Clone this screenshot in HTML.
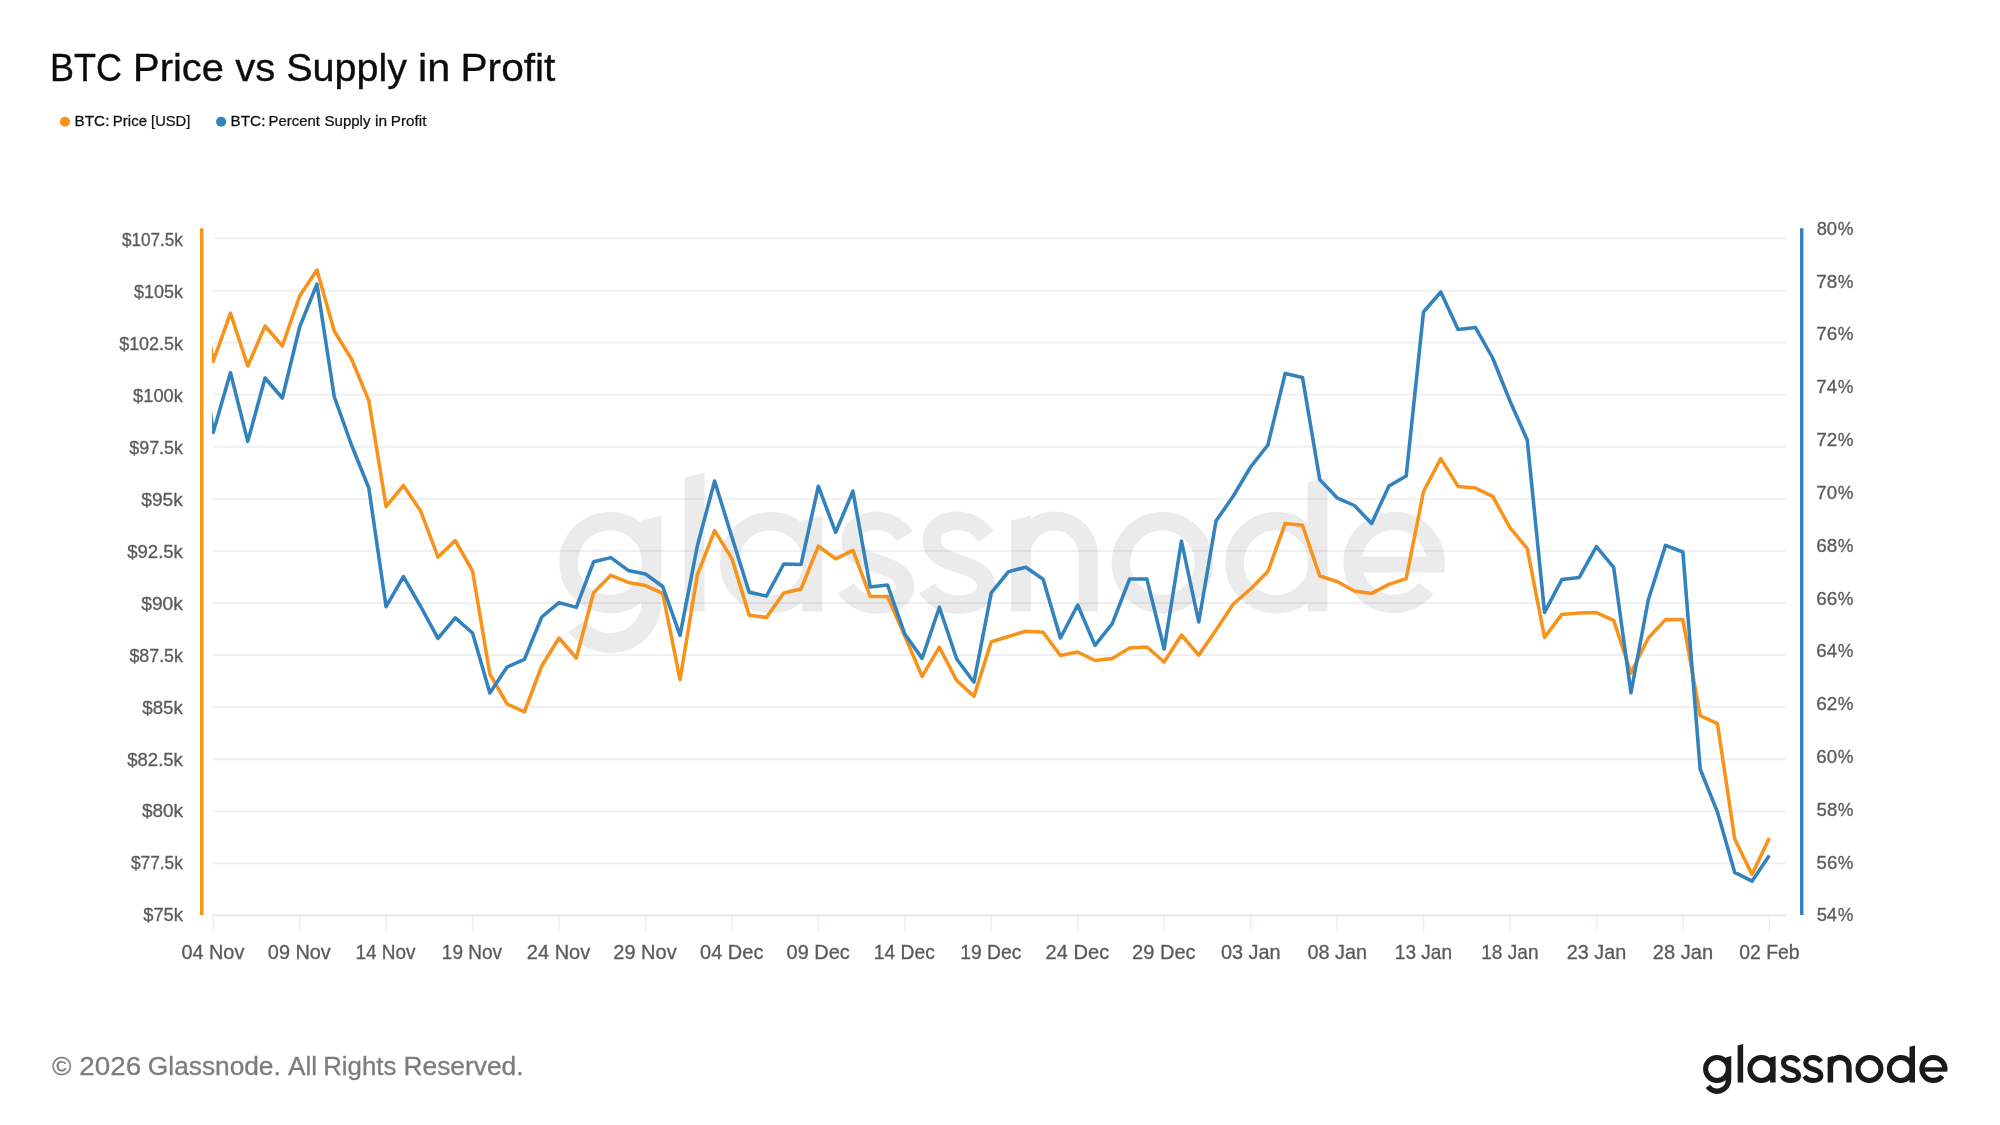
<!DOCTYPE html>
<html lang="en"><head><meta charset="utf-8"><title>BTC Price vs Supply in Profit</title>
<style>
html,body{margin:0;padding:0;background:#fff;}
body{width:2000px;height:1125px;overflow:hidden;font-family:"Liberation Sans",sans-serif;}
svg{display:block;}
svg text{font-family:"Liberation Sans",sans-serif;}
</style></head><body>
<svg width="2000" height="1125" viewBox="0 0 2000 1125">
<rect x="0" y="0" width="2000" height="1125" fill="#ffffff"/>
<defs>
<mask id="txtmask" maskUnits="userSpaceOnUse" x="0" y="0" width="2000" height="1125"><rect x="0" y="0" width="2000" height="1125" fill="#ffffff"/></mask>
<clipPath id="plotclip"><rect x="212" y="200" width="1578" height="720"/></clipPath>
<g id="gnlogo" fill="none" stroke="currentColor" stroke-width="5.1" stroke-linecap="butt" stroke-linejoin="round">
<circle cx="1717.07" cy="1069.0" r="11.45"/>
<path fill="currentColor" stroke="none" d="M1725.77,1057.40 L1731.27,1056.00 L1731.27,1080.24 L1725.77,1080.24 Z"/>
<path stroke-width="5.5" d="M1728.52,1079.74 A11.45,11.45 0 0 1 1707.81,1086.47"/>
<path fill="currentColor" stroke="none" d="M1737.65,1045.50 L1743.15,1044.10 L1743.15,1082.46 L1737.65,1082.46 Z"/>
<circle cx="1761.4" cy="1069.0" r="11.45"/>
<path fill="currentColor" stroke="none" d="M1770.10,1057.40 L1775.60,1056.00 L1775.60,1082.46 L1770.10,1082.46 Z"/>
<path d="M1798.46,1061.72 C1796.52,1058.88 1793.44,1057.43 1790.42,1057.43 C1786.19,1057.43 1783.47,1059.79 1783.47,1062.93 C1783.47,1066.44 1786.49,1067.95 1790.84,1069.28 C1795.56,1070.67 1798.46,1072.36 1798.46,1075.63 C1798.46,1078.65 1795.25,1080.53 1791.02,1080.53 C1786.85,1080.53 1783.71,1078.65 1782.14,1076.11"/>
<path d="M1820.83,1061.72 C1818.89,1058.88 1815.81,1057.43 1812.79,1057.43 C1808.56,1057.43 1805.84,1059.79 1805.84,1062.93 C1805.84,1066.44 1808.86,1067.95 1813.21,1069.28 C1817.93,1070.67 1820.83,1072.36 1820.83,1075.63 C1820.83,1078.65 1817.62,1080.53 1813.39,1080.53 C1809.22,1080.53 1806.08,1078.65 1804.51,1076.11"/>
<path fill="currentColor" stroke="none" d="M1827.65,1057.40 L1833.15,1056.00 L1833.15,1082.46 L1827.65,1082.46 Z"/>
<path stroke-width="5.3" d="M1830.4,1066.80 A9.30,9.30 0 0 1 1849.0,1066.80 V1082.46"/>
<circle cx="1869.45" cy="1069.0" r="11.45"/>
<circle cx="1900.8" cy="1069.0" r="11.45"/>
<path fill="currentColor" stroke="none" d="M1909.50,1046.80 L1915.00,1045.40 L1915.00,1082.46 L1909.50,1082.46 Z"/>
<path d="M1942.26,1076.13 A11.45,11.45 0 1 1 1944.75,1070.00"/>
<path stroke-width="4.4" d="M1921.85,1069.50 H1947.30"/>
</g>
</defs>
<circle cx="65" cy="121.75" r="5.1" fill="#f7931a"/>
<circle cx="221.1" cy="121.75" r="5.1" fill="#3182bd"/>
<g stroke="#eeeef3" stroke-width="1.8" fill="none">
<path d="M213,238.45 H1786.3"/>
<path d="M213,290.53 H1786.3"/>
<path d="M213,342.61 H1786.3"/>
<path d="M213,394.69 H1786.3"/>
<path d="M213,446.77 H1786.3"/>
<path d="M213,498.85 H1786.3"/>
<path d="M213,550.93 H1786.3"/>
<path d="M213,603.01 H1786.3"/>
<path d="M213,655.09 H1786.3"/>
<path d="M213,707.17 H1786.3"/>
<path d="M213,759.25 H1786.3"/>
<path d="M213,811.33 H1786.3"/>
<path d="M213,863.41 H1786.3"/>
</g>
<g opacity="0.074"><use href="#gnlogo" color="#000000" transform="translate(-5614.34,-3312.42) scale(3.625)"/></g>
<path d="M212.4,915.4 H1786.3" stroke="#e8eaf0" stroke-width="2.3" fill="none"/>
<g stroke="#ececf0" stroke-width="1.3" fill="none">
<path d="M213.30,915 V931.5"/>
<path d="M299.75,915 V931.5"/>
<path d="M386.20,915 V931.5"/>
<path d="M472.65,915 V931.5"/>
<path d="M559.10,915 V931.5"/>
<path d="M645.55,915 V931.5"/>
<path d="M732.00,915 V931.5"/>
<path d="M818.45,915 V931.5"/>
<path d="M904.90,915 V931.5"/>
<path d="M991.35,915 V931.5"/>
<path d="M1077.80,915 V931.5"/>
<path d="M1164.25,915 V931.5"/>
<path d="M1250.70,915 V931.5"/>
<path d="M1337.15,915 V931.5"/>
<path d="M1423.60,915 V931.5"/>
<path d="M1510.05,915 V931.5"/>
<path d="M1596.50,915 V931.5"/>
<path d="M1682.95,915 V931.5"/>
<path d="M1769.40,915 V931.5"/>
</g>
<path d="M201.75,228.3 V915" stroke="#f7931a" stroke-width="3.4" fill="none"/>
<path d="M1801.75,228.3 V915" stroke="#3182bd" stroke-width="3.4" fill="none"/>
<g clip-path="url(#plotclip)" fill="none" stroke-width="3.55" stroke-linejoin="round" stroke-linecap="butt">
<path d="M195.91,263.00 L213.20,361.40 L230.49,313.20 L247.78,366.00 L265.07,326.00 L282.36,346.00 L299.65,296.00 L316.94,270.00 L334.23,331.00 L351.52,359.00 L368.81,400.60 L386.10,506.40 L403.39,485.60 L420.68,511.00 L437.97,557.00 L455.26,540.60 L472.55,571.00 L489.84,674.00 L507.13,704.00 L524.42,711.80 L541.71,666.00 L559.00,638.00 L576.29,658.00 L593.58,592.70 L610.87,575.30 L628.16,582.40 L645.45,585.60 L662.74,593.30 L680.03,679.60 L697.32,575.00 L714.61,530.60 L731.90,558.60 L749.19,615.30 L766.48,617.40 L783.77,593.00 L801.06,589.00 L818.35,546.20 L835.64,558.80 L852.93,550.40 L870.22,596.40 L887.51,596.40 L904.80,636.00 L922.09,676.40 L939.38,647.20 L956.67,680.50 L973.96,696.40 L991.25,641.80 L1008.54,636.50 L1025.83,631.20 L1043.12,632.30 L1060.41,655.50 L1077.70,652.00 L1094.99,660.50 L1112.28,658.60 L1129.57,648.00 L1146.86,647.00 L1164.15,662.00 L1181.44,635.00 L1198.73,655.20 L1216.02,630.00 L1233.31,604.00 L1250.60,589.00 L1267.89,571.60 L1285.18,523.40 L1302.47,525.20 L1319.76,576.00 L1337.05,581.50 L1354.34,591.00 L1371.63,593.40 L1388.92,584.40 L1406.21,578.60 L1423.50,491.50 L1440.79,458.60 L1458.08,486.40 L1475.37,488.00 L1492.66,496.40 L1509.95,527.60 L1527.24,548.60 L1544.53,637.40 L1561.82,614.40 L1579.11,613.00 L1596.40,612.60 L1613.69,620.40 L1630.98,673.00 L1648.27,638.00 L1665.56,619.60 L1682.85,619.60 L1700.14,715.60 L1717.43,723.60 L1734.72,839.00 L1752.01,874.40 L1769.30,838.00" stroke="#f7931a"/>
<path d="M195.91,309.00 L213.20,432.40 L230.49,372.60 L247.78,441.40 L265.07,378.00 L282.36,398.00 L299.65,327.00 L316.94,284.20 L334.23,396.60 L351.52,445.00 L368.81,488.00 L386.10,606.70 L403.39,576.60 L420.68,606.50 L437.97,638.40 L455.26,617.80 L472.55,633.00 L489.84,693.00 L507.13,667.00 L524.42,659.40 L541.71,617.00 L559.00,602.60 L576.29,607.40 L593.58,561.80 L610.87,557.60 L628.16,570.40 L645.45,574.00 L662.74,586.50 L680.03,635.40 L697.32,546.00 L714.61,481.00 L731.90,537.00 L749.19,592.20 L766.48,596.00 L783.77,564.00 L801.06,564.40 L818.35,486.20 L835.64,532.40 L852.93,491.20 L870.22,587.00 L887.51,585.00 L904.80,634.00 L922.09,658.40 L939.38,607.20 L956.67,659.00 L973.96,682.20 L991.25,592.80 L1008.54,571.60 L1025.83,567.20 L1043.12,579.30 L1060.41,638.00 L1077.70,605.00 L1094.99,645.40 L1112.28,623.60 L1129.57,579.00 L1146.86,579.00 L1164.15,649.00 L1181.44,541.00 L1198.73,622.00 L1216.02,521.00 L1233.31,496.00 L1250.60,467.00 L1267.89,445.00 L1285.18,373.40 L1302.47,377.40 L1319.76,479.60 L1337.05,497.80 L1354.34,505.50 L1371.63,523.40 L1388.92,486.00 L1406.21,476.00 L1423.50,312.00 L1440.79,292.00 L1458.08,329.50 L1475.37,327.40 L1492.66,358.00 L1509.95,401.00 L1527.24,440.00 L1544.53,612.40 L1561.82,579.60 L1579.11,577.60 L1596.40,546.60 L1613.69,567.40 L1630.98,692.70 L1648.27,600.00 L1665.56,545.40 L1682.85,552.00 L1700.14,769.00 L1717.43,812.00 L1734.72,872.40 L1752.01,881.20 L1769.30,855.60" stroke="#3182bd"/>
</g>
<use href="#gnlogo" color="#1a1a1a"/>
<g mask="url(#txtmask)">
<text transform="translate(49.98,81.20) scale(0.9408,1)" font-size="38.3" fill="#0c0c0c" stroke="#0c0c0c" stroke-width="0.35">BTC</text>
<text transform="translate(133.09,81.20) scale(1.0397,1)" font-size="38.3" fill="#0c0c0c" stroke="#0c0c0c" stroke-width="0.35">Price</text>
<text transform="translate(235.20,81.20) scale(1.0457,1)" font-size="38.3" fill="#0c0c0c" stroke="#0c0c0c" stroke-width="0.35">vs</text>
<text transform="translate(286.27,81.20) scale(1.0310,1)" font-size="38.3" fill="#0c0c0c" stroke="#0c0c0c" stroke-width="0.35">Supply</text>
<text transform="translate(418.11,81.20) scale(1.0805,1)" font-size="38.3" fill="#0c0c0c" stroke="#0c0c0c" stroke-width="0.35">in</text>
<text transform="translate(460.53,81.20) scale(1.0609,1)" font-size="38.3" fill="#0c0c0c" stroke="#0c0c0c" stroke-width="0.35">Profit</text>
<text transform="translate(74.61,126.00) scale(0.9912,1)" font-size="15.4" fill="#111111" stroke="#111111" stroke-width="0.25">BTC:</text>
<text transform="translate(112.82,126.00) scale(0.9772,1)" font-size="15.4" fill="#111111" stroke="#111111" stroke-width="0.25">Price</text>
<text transform="translate(151.08,126.00) scale(0.9566,1)" font-size="15.4" fill="#111111" stroke="#111111" stroke-width="0.25">[USD]</text>
<text transform="translate(230.61,126.00) scale(0.9912,1)" font-size="15.4" fill="#111111" stroke="#111111" stroke-width="0.25">BTC:</text>
<text transform="translate(268.53,126.00) scale(0.9688,1)" font-size="15.4" fill="#111111" stroke="#111111" stroke-width="0.25">Percent</text>
<text transform="translate(324.53,126.00) scale(0.9763,1)" font-size="15.4" fill="#111111" stroke="#111111" stroke-width="0.25">Supply</text>
<text transform="translate(375.03,126.00) scale(1.0040,1)" font-size="15.4" fill="#111111" stroke="#111111" stroke-width="0.25">in</text>
<text transform="translate(390.81,126.00) scale(0.9916,1)" font-size="15.4" fill="#111111" stroke="#111111" stroke-width="0.25">Profit</text>
<text transform="translate(181.38,959.00) scale(0.9750,1)" font-size="20.4" fill="#5a5a5a" stroke="#5a5a5a" stroke-width="0.3">04 Nov</text>
<text transform="translate(267.83,959.00) scale(0.9750,1)" font-size="20.4" fill="#5a5a5a" stroke="#5a5a5a" stroke-width="0.3">09 Nov</text>
<text transform="translate(355.41,959.00) scale(0.9312,1)" font-size="20.4" fill="#5a5a5a" stroke="#5a5a5a" stroke-width="0.3">14 Nov</text>
<text transform="translate(441.86,959.00) scale(0.9312,1)" font-size="20.4" fill="#5a5a5a" stroke="#5a5a5a" stroke-width="0.3">19 Nov</text>
<text transform="translate(526.86,959.00) scale(0.9799,1)" font-size="20.4" fill="#5a5a5a" stroke="#5a5a5a" stroke-width="0.3">24 Nov</text>
<text transform="translate(613.31,959.00) scale(0.9799,1)" font-size="20.4" fill="#5a5a5a" stroke="#5a5a5a" stroke-width="0.3">29 Nov</text>
<text transform="translate(700.08,959.00) scale(0.9799,1)" font-size="20.4" fill="#5a5a5a" stroke="#5a5a5a" stroke-width="0.3">04 Dec</text>
<text transform="translate(786.53,959.00) scale(0.9799,1)" font-size="20.4" fill="#5a5a5a" stroke="#5a5a5a" stroke-width="0.3">09 Dec</text>
<text transform="translate(873.85,959.00) scale(0.9438,1)" font-size="20.4" fill="#5a5a5a" stroke="#5a5a5a" stroke-width="0.3">14 Dec</text>
<text transform="translate(960.30,959.00) scale(0.9438,1)" font-size="20.4" fill="#5a5a5a" stroke="#5a5a5a" stroke-width="0.3">19 Dec</text>
<text transform="translate(1045.56,959.00) scale(0.9848,1)" font-size="20.4" fill="#5a5a5a" stroke="#5a5a5a" stroke-width="0.3">24 Dec</text>
<text transform="translate(1132.01,959.00) scale(0.9848,1)" font-size="20.4" fill="#5a5a5a" stroke="#5a5a5a" stroke-width="0.3">29 Dec</text>
<text transform="translate(1220.98,959.00) scale(0.9753,1)" font-size="20.4" fill="#5a5a5a" stroke="#5a5a5a" stroke-width="0.3">03 Jan</text>
<text transform="translate(1307.43,959.00) scale(0.9753,1)" font-size="20.4" fill="#5a5a5a" stroke="#5a5a5a" stroke-width="0.3">08 Jan</text>
<text transform="translate(1394.81,959.00) scale(0.9349,1)" font-size="20.4" fill="#5a5a5a" stroke="#5a5a5a" stroke-width="0.3">13 Jan</text>
<text transform="translate(1481.26,959.00) scale(0.9349,1)" font-size="20.4" fill="#5a5a5a" stroke="#5a5a5a" stroke-width="0.3">18 Jan</text>
<text transform="translate(1566.72,959.00) scale(0.9721,1)" font-size="20.4" fill="#5a5a5a" stroke="#5a5a5a" stroke-width="0.3">23 Jan</text>
<text transform="translate(1652.76,959.00) scale(0.9857,1)" font-size="20.4" fill="#5a5a5a" stroke="#5a5a5a" stroke-width="0.3">28 Jan</text>
<text transform="translate(1739.14,959.00) scale(0.9525,1)" font-size="20.4" fill="#5a5a5a" stroke="#5a5a5a" stroke-width="0.3">02 Feb</text>
<text transform="translate(121.90,245.86) scale(0.9321,1)" font-size="18.4" fill="#5a5a5a" stroke="#5a5a5a" stroke-width="0.3">$107.5k</text>
<text transform="translate(133.90,297.83) scale(0.9778,1)" font-size="18.4" fill="#5a5a5a" stroke="#5a5a5a" stroke-width="0.3">$105k</text>
<text transform="translate(119.20,349.79) scale(0.9732,1)" font-size="18.4" fill="#5a5a5a" stroke="#5a5a5a" stroke-width="0.3">$102.5k</text>
<text transform="translate(133.10,401.75) scale(0.9936,1)" font-size="18.4" fill="#5a5a5a" stroke="#5a5a5a" stroke-width="0.3">$100k</text>
<text transform="translate(129.30,453.72) scale(0.9706,1)" font-size="18.4" fill="#5a5a5a" stroke="#5a5a5a" stroke-width="0.3">$97.5k</text>
<text transform="translate(141.30,505.69) scale(1.0426,1)" font-size="18.4" fill="#5a5a5a" stroke="#5a5a5a" stroke-width="0.3">$95k</text>
<text transform="translate(127.20,557.65) scale(1.0084,1)" font-size="18.4" fill="#5a5a5a" stroke="#5a5a5a" stroke-width="0.3">$92.5k</text>
<text transform="translate(141.20,609.62) scale(1.0451,1)" font-size="18.4" fill="#5a5a5a" stroke="#5a5a5a" stroke-width="0.3">$90k</text>
<text transform="translate(129.40,661.58) scale(0.9688,1)" font-size="18.4" fill="#5a5a5a" stroke="#5a5a5a" stroke-width="0.3">$87.5k</text>
<text transform="translate(142.20,713.55) scale(1.0202,1)" font-size="18.4" fill="#5a5a5a" stroke="#5a5a5a" stroke-width="0.3">$85k</text>
<text transform="translate(127.20,765.51) scale(1.0084,1)" font-size="18.4" fill="#5a5a5a" stroke="#5a5a5a" stroke-width="0.3">$82.5k</text>
<text transform="translate(141.90,817.48) scale(1.0277,1)" font-size="18.4" fill="#5a5a5a" stroke="#5a5a5a" stroke-width="0.3">$80k</text>
<text transform="translate(130.90,869.44) scale(0.9418,1)" font-size="18.4" fill="#5a5a5a" stroke="#5a5a5a" stroke-width="0.3">$77.5k</text>
<text transform="translate(143.20,921.41) scale(0.9953,1)" font-size="18.4" fill="#5a5a5a" stroke="#5a5a5a" stroke-width="0.3">$75k</text>
<text transform="translate(1816.63,234.80) scale(1.0148,1)" font-size="18.1" fill="#5a5a5a" stroke="#5a5a5a" stroke-width="0.3">80</text>
<text transform="translate(1837.75,234.80) scale(0.9740,1)" font-size="18.1" fill="#5a5a5a" stroke="#5a5a5a" stroke-width="0.3">%</text>
<text transform="translate(1816.31,287.62) scale(1.0458,1)" font-size="18.1" fill="#5a5a5a" stroke="#5a5a5a" stroke-width="0.3">78</text>
<text transform="translate(1837.75,287.62) scale(0.9740,1)" font-size="18.1" fill="#5a5a5a" stroke="#5a5a5a" stroke-width="0.3">%</text>
<text transform="translate(1816.31,340.43) scale(1.0458,1)" font-size="18.1" fill="#5a5a5a" stroke="#5a5a5a" stroke-width="0.3">76</text>
<text transform="translate(1837.75,340.43) scale(0.9740,1)" font-size="18.1" fill="#5a5a5a" stroke="#5a5a5a" stroke-width="0.3">%</text>
<text transform="translate(1816.33,393.25) scale(1.0301,1)" font-size="18.1" fill="#5a5a5a" stroke="#5a5a5a" stroke-width="0.3">74</text>
<text transform="translate(1837.75,393.25) scale(0.9740,1)" font-size="18.1" fill="#5a5a5a" stroke="#5a5a5a" stroke-width="0.3">%</text>
<text transform="translate(1816.31,446.06) scale(1.0458,1)" font-size="18.1" fill="#5a5a5a" stroke="#5a5a5a" stroke-width="0.3">72</text>
<text transform="translate(1837.75,446.06) scale(0.9740,1)" font-size="18.1" fill="#5a5a5a" stroke="#5a5a5a" stroke-width="0.3">%</text>
<text transform="translate(1816.33,498.88) scale(1.0301,1)" font-size="18.1" fill="#5a5a5a" stroke="#5a5a5a" stroke-width="0.3">70</text>
<text transform="translate(1837.75,498.88) scale(0.9740,1)" font-size="18.1" fill="#5a5a5a" stroke="#5a5a5a" stroke-width="0.3">%</text>
<text transform="translate(1816.31,551.69) scale(1.0458,1)" font-size="18.1" fill="#5a5a5a" stroke="#5a5a5a" stroke-width="0.3">68</text>
<text transform="translate(1837.75,551.69) scale(0.9740,1)" font-size="18.1" fill="#5a5a5a" stroke="#5a5a5a" stroke-width="0.3">%</text>
<text transform="translate(1816.31,604.50) scale(1.0458,1)" font-size="18.1" fill="#5a5a5a" stroke="#5a5a5a" stroke-width="0.3">66</text>
<text transform="translate(1837.75,604.50) scale(0.9740,1)" font-size="18.1" fill="#5a5a5a" stroke="#5a5a5a" stroke-width="0.3">%</text>
<text transform="translate(1816.33,657.32) scale(1.0301,1)" font-size="18.1" fill="#5a5a5a" stroke="#5a5a5a" stroke-width="0.3">64</text>
<text transform="translate(1837.75,657.32) scale(0.9740,1)" font-size="18.1" fill="#5a5a5a" stroke="#5a5a5a" stroke-width="0.3">%</text>
<text transform="translate(1816.31,710.13) scale(1.0458,1)" font-size="18.1" fill="#5a5a5a" stroke="#5a5a5a" stroke-width="0.3">62</text>
<text transform="translate(1837.75,710.13) scale(0.9740,1)" font-size="18.1" fill="#5a5a5a" stroke="#5a5a5a" stroke-width="0.3">%</text>
<text transform="translate(1816.33,762.95) scale(1.0301,1)" font-size="18.1" fill="#5a5a5a" stroke="#5a5a5a" stroke-width="0.3">60</text>
<text transform="translate(1837.75,762.95) scale(0.9740,1)" font-size="18.1" fill="#5a5a5a" stroke="#5a5a5a" stroke-width="0.3">%</text>
<text transform="translate(1816.62,815.76) scale(1.0301,1)" font-size="18.1" fill="#5a5a5a" stroke="#5a5a5a" stroke-width="0.3">58</text>
<text transform="translate(1837.75,815.76) scale(0.9740,1)" font-size="18.1" fill="#5a5a5a" stroke="#5a5a5a" stroke-width="0.3">%</text>
<text transform="translate(1816.62,868.58) scale(1.0301,1)" font-size="18.1" fill="#5a5a5a" stroke="#5a5a5a" stroke-width="0.3">56</text>
<text transform="translate(1837.75,868.58) scale(0.9740,1)" font-size="18.1" fill="#5a5a5a" stroke="#5a5a5a" stroke-width="0.3">%</text>
<text transform="translate(1816.63,921.39) scale(1.0148,1)" font-size="18.1" fill="#5a5a5a" stroke="#5a5a5a" stroke-width="0.3">54</text>
<text transform="translate(1837.75,921.39) scale(0.9740,1)" font-size="18.1" fill="#5a5a5a" stroke="#5a5a5a" stroke-width="0.3">%</text>
<text transform="translate(51.90,1074.70) scale(1.0134,1)" font-size="26" fill="#7c7c7c" stroke="#7c7c7c" stroke-width="0.3">©</text>
<text transform="translate(79.30,1074.70) scale(1.0690,1)" font-size="26" fill="#7c7c7c" stroke="#7c7c7c" stroke-width="0.3">2026</text>
<text transform="translate(147.87,1074.70) scale(1.0113,1)" font-size="26" fill="#7c7c7c" stroke="#7c7c7c" stroke-width="0.3">Glassnode.</text>
<text transform="translate(288.10,1074.70) scale(1.0044,1)" font-size="26" fill="#7c7c7c" stroke="#7c7c7c" stroke-width="0.3">All</text>
<text transform="translate(323.23,1074.70) scale(0.9929,1)" font-size="26" fill="#7c7c7c" stroke="#7c7c7c" stroke-width="0.3">Rights</text>
<text transform="translate(403.54,1074.70) scale(1.0134,1)" font-size="26" fill="#7c7c7c" stroke="#7c7c7c" stroke-width="0.3">Reserved.</text>
</g>
</svg>
</body></html>
